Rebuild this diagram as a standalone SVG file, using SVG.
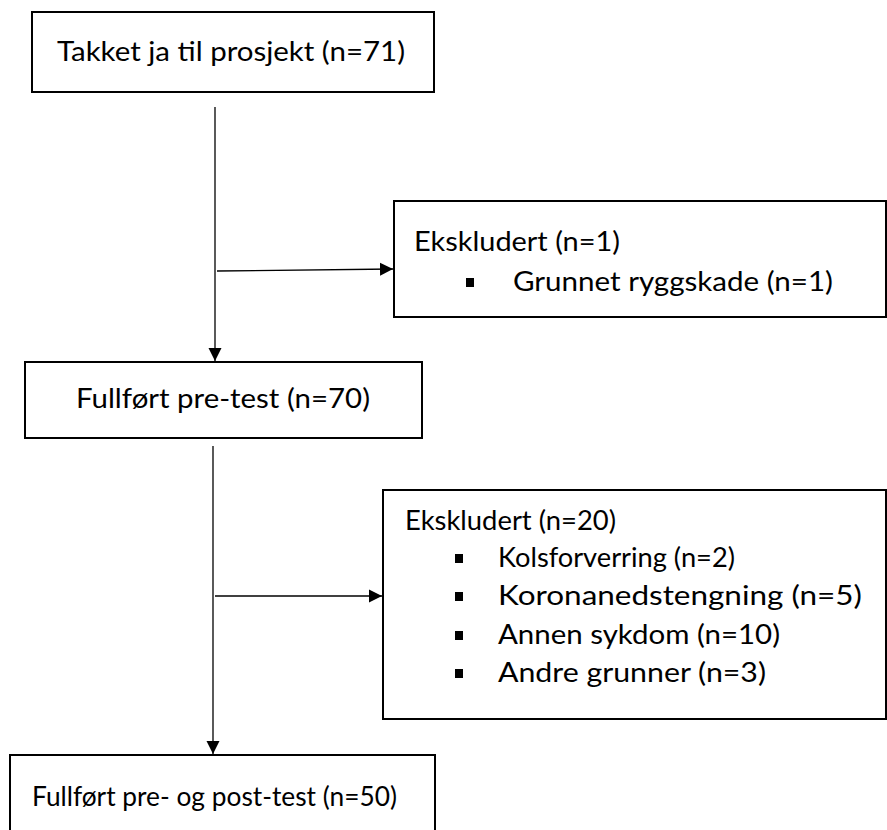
<svg xmlns="http://www.w3.org/2000/svg" width="887" height="830" viewBox="0 0 887 830">
<style>
.box{fill:#fff;stroke:#000;stroke-width:2}
.t{font-family:Lato,"Liberation Sans",sans-serif;font-size:26px;fill:#000}
.c{stroke:#000;stroke-width:1.3;fill:none}
.b{fill:#000}
</style>
<defs>
<marker id="ah" viewBox="0 0 12 12" refX="12" refY="6" markerWidth="13" markerHeight="14" markerUnits="userSpaceOnUse" orient="auto">
<path d="M0,0 L12,6 L0,12 z" fill="#000"/>
</marker>
</defs>
<rect width="887" height="830" fill="#fff"/>
<g id="connectors">
<line class="c" x1="215" y1="107" x2="215" y2="361" marker-end="url(#ah)"/>
<line class="c" x1="217" y1="271" x2="393" y2="269" marker-end="url(#ah)"/>
<line class="c" x1="213" y1="446" x2="213" y2="754" marker-end="url(#ah)"/>
<line class="c" x1="215" y1="596" x2="382" y2="596" marker-end="url(#ah)"/>
</g>
<g id="n1">
<rect class="box" x="32" y="12" width="402" height="80"/>
<text class="t" x="57" y="61" textLength="348" lengthAdjust="spacingAndGlyphs">Takket ja til prosjekt (n=71)</text>
</g>
<g id="n2">
<rect class="box" x="394" y="201" width="492" height="116"/>
<text class="t" x="414" y="251" textLength="206" lengthAdjust="spacingAndGlyphs">Ekskludert (n=1)</text>
<rect class="b" x="466" y="278" width="8" height="9"/>
<text class="t" x="513" y="291" textLength="320" lengthAdjust="spacingAndGlyphs">Grunnet ryggskade (n=1)</text>
</g>
<g id="n3">
<rect class="box" x="25" y="362" width="397" height="76"/>
<text class="t" x="76" y="408" textLength="294" lengthAdjust="spacingAndGlyphs">Fullført pre-test (n=70)</text>
</g>
<g id="n4">
<rect class="box" x="383" y="490" width="503" height="229"/>
<text class="t" x="405" y="530" textLength="211" lengthAdjust="spacingAndGlyphs">Ekskludert (n=20)</text>
<rect class="b" x="455" y="554" width="8" height="9"/>
<text class="t" x="498" y="567" textLength="237" lengthAdjust="spacingAndGlyphs">Kolsforverring (n=2)</text>
<rect class="b" x="455" y="592" width="8" height="9"/>
<text class="t" x="498" y="605" textLength="364" lengthAdjust="spacingAndGlyphs">Koronanedstengning (n=5)</text>
<rect class="b" x="455" y="631" width="8" height="9"/>
<text class="t" x="498" y="644" textLength="282" lengthAdjust="spacingAndGlyphs">Annen sykdom (n=10)</text>
<rect class="b" x="455" y="669" width="8" height="9"/>
<text class="t" x="498" y="682" textLength="268" lengthAdjust="spacingAndGlyphs">Andre grunner (n=3)</text>
</g>
<g id="n5">
<rect class="box" x="10" y="755" width="425" height="100"/>
<text class="t" x="32" y="806" textLength="365" lengthAdjust="spacingAndGlyphs">Fullført pre- og post-test (n=50)</text>
</g>
</svg>
